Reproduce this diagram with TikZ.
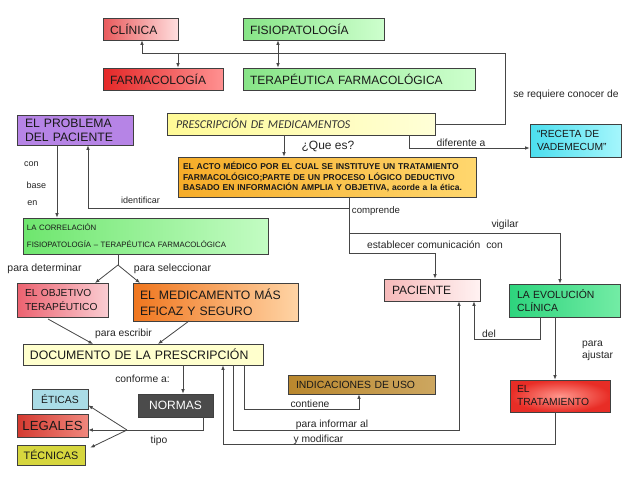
\documentclass[tikz,border=0pt]{standalone}
\usepackage{fontspec}
\setmainfont{Liberation Sans}
\newfontfamily\calib{Carlito}
\usetikzlibrary{arrows.meta,calc}
\definecolor{clinA}{RGB}{232,90,92}
\definecolor{clinB}{RGB}{255,222,222}
\definecolor{farmA}{RGB}{228,40,40}
\definecolor{farmB}{RGB}{255,145,145}
\definecolor{grA}{RGB}{135,228,135}
\definecolor{grB}{RGB}{205,255,205}
\definecolor{purp}{RGB}{182,132,230}
\definecolor{prA}{RGB}{255,250,150}
\definecolor{prB}{RGB}{255,255,215}
\definecolor{acA}{RGB}{246,172,40}
\definecolor{acB}{RGB}{255,215,110}
\definecolor{reA}{RGB}{75,222,238}
\definecolor{reB}{RGB}{165,246,252}
\definecolor{coA}{RGB}{110,230,110}
\definecolor{coB}{RGB}{195,252,195}
\definecolor{obA}{RGB}{236,98,112}
\definecolor{obB}{RGB}{250,205,210}
\definecolor{meA}{RGB}{240,118,30}
\definecolor{meB}{RGB}{255,212,165}
\definecolor{docF}{RGB}{255,255,205}
\definecolor{paA}{RGB}{246,185,185}
\definecolor{paB}{RGB}{255,242,242}
\definecolor{evA}{RGB}{45,212,125}
\definecolor{evB}{RGB}{115,236,165}
\definecolor{trA}{RGB}{232,45,38}
\definecolor{trB}{RGB}{255,150,140}
\definecolor{inA}{RGB}{185,135,45}
\definecolor{inB}{RGB}{250,240,215}
\definecolor{noF}{RGB}{75,75,75}
\definecolor{etF}{RGB}{170,220,230}
\definecolor{leA}{RGB}{212,58,48}
\definecolor{leB}{RGB}{240,135,125}
\definecolor{teF}{RGB}{214,214,62}
\definecolor{lineC}{RGB}{70,70,70}
\tikzset{
  box/.style={draw=black!75, line width=0.7pt, rectangle, inner ysep=0pt, align=left, text=black!90},
  cbox/.style={draw=black!75, line width=0.7pt, rectangle, inner sep=0pt, align=center, text=black!90},
  ln/.style={draw=lineC, line width=0.8pt},
  arr/.style={ln, -{Latex[length=4.5pt,width=3.6pt]}},
  lbl/.style={inner sep=0pt, text=black!85, font=\fontsize{10.3}{12}\selectfont},
  fa/.style={font=\fontsize{12}{14}\selectfont},
  fb/.style={font=\fontsize{10.4}{13}\selectfont}
}
\begin{document}
\begin{tikzpicture}[x=1pt,y=-1pt]
\useasboundingbox (0,0) rectangle (638,479);
\fill[white] (0,0) rectangle (638,479);

% nodes
\node[box, fa, left color=clinA, right color=clinB, inner xsep=7pt, text width=61pt, minimum height=22pt] (clin) at (140.5,29) {CLÍNICA};
\node[box, fa, left color=grA, right color=grB, inner xsep=7pt, text width=127pt, minimum height=22pt] (fisio) at (313.5,29) {FISIOPATOLOGÍA};
\node[box, fa, left color=farmA, right color=farmB, inner xsep=7pt, text width=106pt, minimum height=22pt] (farma) at (163,79) {FARMACOLOGÍA};
\node[box, fa, left color=grA, right color=grB, inner xsep=7pt, text width=218pt, minimum height=22pt] (tera) at (359,79) {TERAPÉUTICA FARMACOLÓGICA};
\node[box, font=\fontsize{12.2}{14}\selectfont, fill=purp, inner xsep=8pt, text width=100pt, minimum height=30pt] (prob) at (75,130) {EL PROBLEMA\\DEL PACIENTE};
\node[box, font=\calib\itshape\fontsize{12}{14}\selectfont, left color=prA, right color=prB, inner xsep=9pt, text width=250pt, minimum height=22pt, text=black!80] (presc) at (301,124) {PRESCRIPCIÓN DE MEDICAMENTOS};
\node[box, font=\fontsize{10.3}{13}\selectfont, left color=reA, right color=reB, inner xsep=7pt, text width=77pt, minimum height=33pt] (receta) at (575.5,140.5) {“RECETA DE\\VADEMECUM”};
\node[box, font=\bfseries\fontsize{8.5}{10.5}\selectfont, left color=acA, right color=acB, inner xsep=5pt, text width=288pt, minimum height=40pt] (acto) at (327,177) {EL ACTO MÉDICO POR EL CUAL SE INSTITUYE UN TRATAMIENTO\\FARMACOLÓGICO;PARTE DE UN PROCESO LÓGICO DEDUCTIVO\\BASADO EN INFORMACIÓN AMPLIA Y OBJETIVA, acorde a la ética.};
\node[box, font=\fontsize{7.8}{17}\selectfont, left color=coA, right color=coB, inner xsep=4pt, text width=237pt, minimum height=36pt] (corr) at (145.5,236) {LA CORRELACIÓN\\FISIOPATOLOGÍA – TERAPÉUTICA FARMACOLÓGICA};
\node[box, font=\fontsize{10.2}{14}\selectfont, left color=obA, right color=obB, inner xsep=8pt, text width=75pt, minimum height=34pt] (obj) at (62.5,300) {EL OBJETIVO\\TERAPÉUTICO};
\node[box, font=\fontsize{12.2}{16}\selectfont, left color=meA, right color=meB, inner xsep=7pt, text width=151pt, minimum height=38pt] (medic) at (215.5,302) {EL MEDICAMENTO MÁS\\EFICAZ Y SEGURO};
\node[box, font=\fontsize{12.3}{14}\selectfont, fill=docF, inner xsep=7pt, text width=226pt, minimum height=21pt] (doc) at (143,354.5) {DOCUMENTO DE LA PRESCRIPCIÓN};
\node[cbox, fa, fill=noF, text=white, minimum width=75pt, minimum height=23pt] (normas) at (175.5,405.5) {NORMAS};
\node[cbox, fb, fill=etF, minimum width=56pt, minimum height=20pt] (eticas) at (60,399) {ÉTICAS};
\node[cbox, font=\fontsize{13.2}{15}\selectfont, left color=leA, right color=leB, minimum width=71pt, minimum height=23pt] (legales) at (52.5,425.5) {LEGALES};
\node[cbox, font=\fontsize{10.8}{13}\selectfont, fill=teF, minimum width=68pt, minimum height=20pt] (tecnicas) at (51,455) {TÉCNICAS};
\node[box, fb, left color=inA, middle color=inB, right color=inA!70!inB, inner xsep=8pt, text width=131pt, minimum height=19pt] (indic) at (361.5,384.5) {INDICACIONES DE USO};
\node[box, fa, left color=paA, right color=paB, inner xsep=8pt, text width=80pt, minimum height=22pt] (pac) at (432,290) {PACIENTE};
\node[box, font=\fontsize{10.4}{13}\selectfont, left color=evA, right color=evB, inner xsep=8pt, text width=95pt, minimum height=33pt] (evol) at (564.5,300.5) {LA EVOLUCIÓN\\CLÍNICA};
\node[box, font=\fontsize{10.3}{13}\selectfont, inner color=trB, outer color=trA, inner xsep=7pt, text width=86pt, minimum height=32pt] (trat) at (560,396) {EL\\TRATAMIENTO};

% top connectors
\coordinate (t1) at (142,53);
\coordinate (t2) at (505,53);
\coordinate (t3) at (178,53);
\coordinate (t4) at (278,53);
\draw[arr] (t1) -- (t1 |- clin.south);
\draw[ln] (t1) -- (t2) |- (presc.east);
\draw[arr] (t3) -- (t3 |- farma.north);
\draw[arr] (t4) -- (t4 |- fisio.south);
\draw[arr] (t4) -- (t4 |- tera.north);
\node[lbl] (l1) at (566,95) {se requiere conocer de};

% presc
\coordinate (qx) at (284,0);
\draw[arr] (presc.south -| qx) -- (acto.north -| qx);
\node[lbl, font=\fontsize{12}{14}\selectfont] (l2) at (328,146) {¿Que es?};
\coordinate (d1) at (409,148);
\draw[arr] (presc.south -| d1) -- (d1) -- (d1 -| receta.west);
\node[lbl] (l3) at (461,143) {diferente a};

% acto branches
\coordinate (c0) at (349,253);
\coordinate (c1) at (349,208);
\coordinate (c2) at (349,233);
\coordinate (cx1) at (88,208);
\coordinate (cx2) at (560,233);
\coordinate (cx3) at (435,253);
\draw[ln] (acto.south -| c0) -- (c0);
\draw[arr] (c1) -- (cx1) -- (cx1 |- prob.south);
\draw[arr] (c2) -- (cx2) -- (cx2 |- evol.north);
\draw[arr] (c0) -- (cx3) -- (cx3 |- pac.north);
\node[lbl, font=\fontsize{9}{11}\selectfont] (l4) at (140.5,200) {identificar};
\node[lbl, font=\fontsize{9.6}{11}\selectfont] (l5) at (376,211) {comprende};
\node[lbl] (l6) at (505,225) {vigilar};
\node[lbl] (l7) at (435,245) {establecer comunicación\hspace{3pt} con};

% problem -> correlacion
\coordinate (px) at (57,0);
\draw[arr] (prob.south -| px) -- (corr.north -| px);
\node[lbl, font=\fontsize{9}{11}\selectfont] (l8) at (31.5,164) {con};
\node[lbl, font=\fontsize{9}{11}\selectfont] (l9) at (36.5,185) {base};
\node[lbl, font=\fontsize{9}{11}\selectfont] (l10) at (32.5,203) {en};

% correlacion -> obj, medic
\coordinate (k0) at (118,265);
\coordinate (k1) at (95,283);
\coordinate (k2) at (140,283);
\draw[ln] (corr.south -| k0) -- (k0);
\draw[arr] (k0) -- (k1);
\draw[arr] (k0) -- (k2);
\node[lbl, font=\fontsize{10.5}{12}\selectfont] (l11) at (44.5,269) {para determinar};
\node[lbl, font=\fontsize{10.5}{12}\selectfont] (l12) at (172.5,269) {para seleccionar};

% obj, medic -> doc
\coordinate (m1) at (48,319);
\coordinate (m2) at (93,344);
\coordinate (m3) at (189,321);
\coordinate (m4) at (158,344);
\draw[arr] (m1) -- (m2);
\draw[arr] (m3) -- (m4);
\node[lbl] (l13) at (123.5,334) {para escribir};

% doc -> normas
\coordinate (nx) at (183,0);
\draw[arr] (doc.south -| nx) -- (normas.north -| nx);
\node[lbl] (l14) at (142.5,379) {conforme a:};
\coordinate (nb) at (203,430);
\coordinate (nt) at (127,430);
\draw[ln] (normas.south -| nb) -- (nb) -- (nt);
\draw[arr] (nt) -- ($(eticas.south east)+(0,-4)$);
\draw[arr] (nt) -- (nt -| legales.east);
\draw[arr] (nt) -- ($(tecnicas.north east)+(5,3)$);
\node[lbl] (l15) at (159,441) {tipo};

% doc -> indic, pac ; trat -> doc
\coordinate (e1) at (244,409);
\coordinate (e2) at (359,409);
\draw[arr] (doc.south -| e1) -- (e1) -- (e2) -- (e2 |- indic.south);
\node[lbl] (l16) at (310,404) {contiene};
\coordinate (f1) at (233,430);
\coordinate (f2) at (459,430);
\draw[arr] (doc.south -| f1) -- (f1) -- (f2) -- (f2 |- pac.south);
\node[lbl] (l17) at (332,425) {para informar al};
\coordinate (g1) at (555,444);
\coordinate (g2) at (223,444);
\draw[arr] (trat.south -| g1) -- (g1) -- (g2) -- (g2 |- doc.south);
\node[lbl] (l18) at (318.5,440) {y modificar};

% evol -> pac, trat
\coordinate (h1) at (540,339);
\coordinate (h2) at (474,339);
\draw[arr] (evol.south -| h1) -- (h1) -- (h2) -- (h2 |- pac.south);
\node[lbl] (l19) at (489,334) {del};
\coordinate (hx) at (555,0);
\draw[arr] (evol.south -| hx) -- (trat.north -| hx);
\node[lbl, align=left, anchor=west, font=\fontsize{10.3}{12}\selectfont] (l20) at (582,351) {para\\ajustar};
\end{tikzpicture}
\end{document}
